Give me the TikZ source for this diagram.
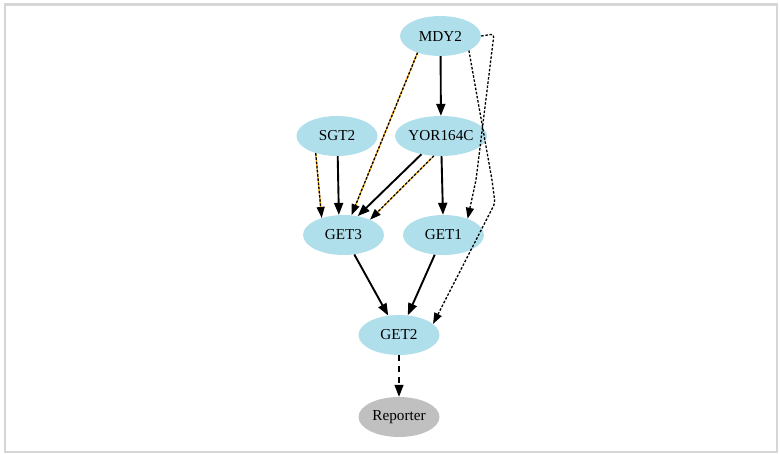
\documentclass[tikz,border=0pt]{standalone}
\usepackage{fontspec}
\setmainfont{Liberation Serif}
\usetikzlibrary{arrows.meta,shapes.geometric}
\definecolor{nodeblue}{RGB}{176,223,236}
\definecolor{repgray}{RGB}{192,192,192}
\definecolor{framegray}{RGB}{214,214,214}
\definecolor{edgeorange}{RGB}{255,165,0}
\tikzset{
  gene/.style={ellipse, fill=nodeblue, minimum width=81pt, minimum height=40pt,
    inner sep=0pt, font=\fontsize{15.2}{17}\selectfont},
  reporter/.style={gene, fill=repgray},
  bigtip/.style={-{Triangle[length=12pt,width=9pt]}},
  smalltip/.style={-{Triangle[length=11pt,width=8pt]}},
  strong/.style={bigtip, line width=1.9pt},
  weak/.style={smalltip, line width=1.3pt, dash pattern=on 2.5pt off 1.7pt, rounded corners=3pt},
  mixed/.style={weak, preaction={draw=edgeorange, line width=1.3pt, solid, arrows=-, shorten >=5pt}},
  reportlink/.style={bigtip, line width=1.2pt, dash pattern=on 6pt off 5pt}
}
\begin{document}
\begin{tikzpicture}[x=1pt,y=-1pt]
  \useasboundingbox (0,0) rectangle (780,454);
  \draw[framegray, line width=2.5pt] (5,4.5) rectangle (777,452);

  % nodes
  \node[gene] (MDY2) at (440.5,36) {MDY2};
  \node[gene] (SGT2) at (337,136) {SGT2};
  \node[gene] (YOR) at (441,136) {YOR164C};
  \node[gene] (GET3) at (343.5,235) {GET3};
  \node[gene] (GET1) at (443.5,235) {GET1};
  \node[gene] (GET2) at (399,335) {GET2};
  \node[reporter] (REP) at (399,417) {Reporter};

  % interactions
  \draw[strong] (MDY2) -- (YOR);
  \draw[mixed] (MDY2.216) -- (GET3.68);
  \draw[weak] (MDY2.east) -- (494,34) -- (476,180) -- (GET1.34);
  \draw[weak] (MDY2.-27) -- (492,180) -- (495,203) -- (GET2.18);

  \draw[mixed] (SGT2.219) -- (GET3.142);
  \draw[strong] (SGT2.-88) -- (GET3.103);

  \draw[strong] (YOR.223) -- (GET3.53);
  \draw[mixed] (YOR.250) -- (GET3.30);
  \draw[strong] (YOR) -- (GET1);

  \draw[strong] (GET3) -- (GET2);
  \draw[strong] (GET1) -- (GET2);

  \draw[reportlink] (GET2) -- (REP);
\end{tikzpicture}
\end{document}
